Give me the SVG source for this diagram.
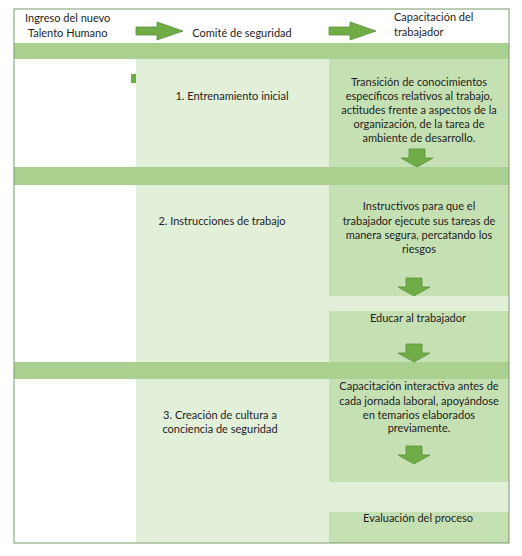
<svg xmlns="http://www.w3.org/2000/svg" width="522" height="556" viewBox="0 0 522 556">
<style>
text{font-family:Lato,"Liberation Sans",Arial,sans-serif;font-size:11px;fill:#1e1e1e}
.c{text-anchor:middle}
.band{fill:#a9d08e}
.c2{fill:#e2efd9}
.c3{fill:#c5e0b3}
.arr{fill:#70ad47;stroke:#5b8f3a;stroke-width:0.8}
</style>
<defs>
<polygon id="down" class="arr" points="-8,0 8,0 8,9 16,9 0,18 -16,9 -8,9"/>
<polygon id="right" class="arr" points="0,-4 21,-4 21,-9 47,0 21,9 21,4 0,4"/>
</defs>
<rect x="0" y="0" width="522" height="556" fill="#fff"/>
<g id="background">
<rect class="c2" x="136" y="59" width="373" height="484"/>
<rect class="c3" x="329" y="59" width="180" height="108"/>
<rect class="c3" x="329" y="185" width="180" height="111"/>
<rect class="c3" x="329" y="311" width="180" height="51"/>
<rect class="c3" x="329" y="379" width="180" height="103"/>
<rect class="c3" x="329" y="512" width="180" height="31"/>
<rect class="band" x="14" y="43" width="495" height="16"/>
<rect class="band" x="14" y="167" width="495" height="18"/>
<rect class="band" x="14" y="362" width="495" height="17"/>
<rect x="131" y="74" width="5" height="9" fill="#70ad47"/>
<rect x="14" y="9" width="495" height="534" fill="none" stroke="#7d9a6c" stroke-width="1"/>
</g>
<g id="h1"><text x="25" y="22">Ingreso del nuevo</text><text x="28" y="37">Talento Humano</text></g>
<g id="h2"><text class="c" x="242" y="37">Comité de seguridad</text></g>
<g id="h3"><text x="394" y="21">Capacitación del</text><text x="394" y="36">trabajador</text></g>
<g id="n1"><text class="c" x="232" y="100">1. Entrenamiento inicial</text></g>
<g id="n1b"><text class="c" x="419" y="85.5">Transición de conocimientos</text><text class="c" x="419" y="99.5">específicos relativos al trabajo,</text><text class="c" x="419" y="113.5">actitudes frente a aspectos de la</text><text class="c" x="419" y="127.5">organización, de la tarea de</text><text class="c" x="419" y="141.5">ambiente de desarrollo.</text></g>
<g id="n2"><text class="c" x="222" y="225">2. Instrucciones de trabajo</text></g>
<g id="n2b"><text class="c" x="419" y="210">Instructivos para que el</text><text class="c" x="419" y="224.5">trabajador ejecute sus tareas de</text><text class="c" x="419" y="239">manera segura, percatando los</text><text class="c" x="419" y="253">riesgos</text></g>
<g id="n2c"><text class="c" x="418" y="322">Educar al trabajador</text></g>
<g id="n3"><text class="c" x="220" y="419">3. Creación de cultura a</text><text class="c" x="220" y="433">conciencia de seguridad</text></g>
<g id="n3b"><text class="c" x="419" y="390">Capacitación interactiva antes de</text><text class="c" x="419" y="405">cada jornada laboral, apoyándose</text><text class="c" x="419" y="419">en temarios elaborados</text><text class="c" x="419" y="432">previamente.</text></g>
<g id="n3c"><text class="c" x="418" y="522">Evaluación del proceso</text></g>
<g id="connectors">
<use href="#right" x="136" y="31"/>
<use href="#right" x="329" y="31"/>
<use href="#down" x="417" y="149"/>
<use href="#down" x="414" y="278"/>
<use href="#down" x="414" y="344"/>
<use href="#down" x="414" y="446"/>
</g>
</svg>
